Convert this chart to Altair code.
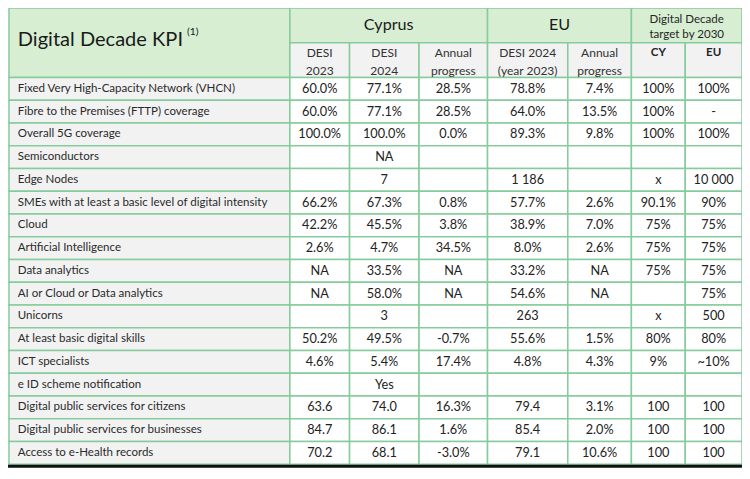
import altair as alt
import pandas as pd

# ---------------- data ----------------
kpis = [
    "Fixed Very High-Capacity Network (VHCN)",
    "Fibre to the Premises (FTTP) coverage",
    "Overall 5G coverage",
    "Semiconductors",
    "Edge Nodes",
    "SMEs with at least a basic level of digital intensity",
    "Cloud",
    "Artificial Intelligence",
    "Data analytics",
    "AI or Cloud or Data analytics",
    "Unicorns",
    "At least basic digital skills",
    "ICT specialists",
    "e ID scheme notification",
    "Digital public services for citizens",
    "Digital public services for businesses",
    "Access to e-Health records",
]
cy_desi_2023 = ["60.0%", "60.0%", "100.0%", "", "", "66.2%", "42.2%", "2.6%", "NA", "NA", "",
                "50.2%", "4.6%", "", "63.6", "84.7", "70.2"]
cy_desi_2024 = ["77.1%", "77.1%", "100.0%", "NA", "7", "67.3%", "45.5%", "4.7%", "33.5%", "58.0%", "3",
                "49.5%", "5.4%", "Yes", "74.0", "86.1", "68.1"]
cy_progress = ["28.5%", "28.5%", "0.0%", "", "", "0.8%", "3.8%", "34.5%", "NA", "NA", "",
               "-0.7%", "17.4%", "", "16.3%", "1.6%", "-3.0%"]
eu_desi_2024 = ["78.8%", "64.0%", "89.3%", "", "1 186", "57.7%", "38.9%", "8.0%", "33.2%", "54.6%", "263",
                "55.6%", "4.8%", "", "79.4", "85.4", "79.1"]
eu_progress = ["7.4%", "13.5%", "9.8%", "", "", "2.6%", "7.0%", "2.6%", "NA", "NA", "",
               "1.5%", "4.3%", "", "3.1%", "2.0%", "10.6%"]
target_cy = ["100%", "100%", "100%", "", "x", "90.1%", "75%", "75%", "75%", "", "x",
             "80%", "9%", "", "100", "100", "100"]
target_eu = ["100%", "-", "100%", "", "10 000", "90%", "75%", "75%", "75%", "75%", "500",
             "80%", "~10%", "", "100", "100", "100"]

title_text = "Digital Decade KPI"
title_note = "(1)"
group_headers = ["Cyprus", "EU"]
target_header = ["Digital Decade", "target by 2030"]
sub_line1 = ["DESI", "DESI", "Annual", "DESI 2024", "Annual"]
sub_line2 = ["2023", "2024", "progress", "(year 2023)", "progress"]
sub_bold = ["CY", "EU"]

# ---------------- layout (reference pixel frame 750 x 479) ----------------
W, H = 750, 479
PW, PH = 734, 463
S = PW / W
col_edges = [1, 288, 349, 420, 490, 572, 637, 692, 750]
row_h = 23.53
body_top = 72

GREEN = "#d7eed3"
GRAY = "#f2f2f2"
LINE = "#86cb9b"
TXT = "#222222"

xs = alt.Scale(domain=[0, W], nice=False, zero=False)
ys = alt.Scale(domain=[0, H], nice=False, zero=False, reverse=True)

# rectangles
rects = []
rects.append(dict(x=col_edges[0], x2=col_edges[1], y=0, y2=72, fill=GREEN))
rects.append(dict(x=col_edges[1], x2=col_edges[4], y=0, y2=36, fill=GREEN))
rects.append(dict(x=col_edges[4], x2=col_edges[6], y=0, y2=36, fill=GREEN))
rects.append(dict(x=col_edges[6], x2=col_edges[8], y=0, y2=36, fill=GREEN))
for j in range(1, 8):
    rects.append(dict(x=col_edges[j], x2=col_edges[j + 1], y=36, y2=72, fill=GRAY))
for i in range(len(kpis)):
    y0 = body_top + i * row_h
    for j in range(8):
        rects.append(dict(x=col_edges[j], x2=col_edges[j + 1], y=y0, y2=y0 + row_h,
                          fill=GRAY if j == 0 else "#ffffff"))
rect_df = pd.DataFrame(rects)

rect_layer = alt.Chart(rect_df).mark_rect(stroke=LINE, strokeWidth=1.5).encode(
    x=alt.X("x:Q", scale=xs, axis=None),
    x2="x2:Q",
    y=alt.Y("y:Q", scale=ys, axis=None),
    y2="y2:Q",
    fill=alt.Fill("fill:N", scale=None),
)


def text_layer(df, size, align="center", color=TXT, weight="normal"):
    return alt.Chart(df).mark_text(font="Lato", fontSize=size * S, color=color, fontWeight=weight,
                                   baseline="middle", align=align).encode(
        x=alt.X("x:Q", scale=xs, axis=None), y=alt.Y("y:Q", scale=ys, axis=None), text="t:N")


# body text
cols = [cy_desi_2023, cy_desi_2024, cy_progress, eu_desi_2024, eu_progress, target_cy, target_eu]
cells = []
for i in range(len(kpis)):
    yc = body_top + (i + 0.5) * row_h
    for j, c in enumerate(cols):
        cells.append(dict(x=(col_edges[j + 1] + col_edges[j + 2]) / 2, y=yc, t=c[i]))
cell_layer = text_layer(pd.DataFrame(cells), 13)

kpi_df = pd.DataFrame([dict(x=10, y=body_top + (i + 0.5) * row_h, t=k) for i, k in enumerate(kpis)])
kpi_layer = text_layer(kpi_df, 11.8, align="left", color="#2a2a2a")

title_layer = text_layer(pd.DataFrame([dict(x=10, y=33, t=title_text)]), 20.5, align="left", color="#1a1a1a")
note_layer = text_layer(pd.DataFrame([dict(x=183, y=25, t=title_note)]), 10.5, align="left", color="#1a1a1a")

grp_df = pd.DataFrame([
    dict(x=(col_edges[1] + col_edges[4]) / 2, y=18, t=group_headers[0]),
    dict(x=(col_edges[4] + col_edges[6]) / 2, y=18, t=group_headers[1]),
])
grp_layer = text_layer(grp_df, 16.5, color="#1a1a1a")

tgt_df = pd.DataFrame([
    dict(x=(col_edges[6] + col_edges[8]) / 2, y=12, t=target_header[0]),
    dict(x=(col_edges[6] + col_edges[8]) / 2, y=28, t=target_header[1]),
])
tgt_layer = text_layer(tgt_df, 11.8, color="#262626")

subs = []
for j in range(5):
    xc = (col_edges[j + 1] + col_edges[j + 2]) / 2
    subs.append(dict(x=xc, y=47, t=sub_line1[j]))
    subs.append(dict(x=xc, y=65, t=sub_line2[j]))
sub_layer = text_layer(pd.DataFrame(subs), 12.3, color="#333333")

bold_df = pd.DataFrame([
    dict(x=(col_edges[6] + col_edges[7]) / 2, y=47, t=sub_bold[0]),
    dict(x=(col_edges[7] + col_edges[8]) / 2, y=47, t=sub_bold[1]),
])
bold_layer = text_layer(bold_df, 11.8, color="#262626", weight="bold")

# bottom dark rule
bottom_df = pd.DataFrame([dict(x=0, x2=W, y=body_top + len(kpis) * row_h + 2)])
bottom_layer = alt.Chart(bottom_df).mark_rule(color="#111111", strokeWidth=3).encode(
    x=alt.X("x:Q", scale=xs, axis=None), x2="x2:Q", y=alt.Y("y:Q", scale=ys, axis=None))

chart = alt.layer(
    rect_layer, bottom_layer, cell_layer, kpi_layer, title_layer, note_layer,
    grp_layer, tgt_layer, sub_layer, bold_layer,
).properties(
    width=PW, height=PH, padding=0, autosize=alt.AutoSizeParams(type="none")
).configure_view(stroke=None)

chart.save("out.html", embed_options={"renderer": "svg", "actions": False})
